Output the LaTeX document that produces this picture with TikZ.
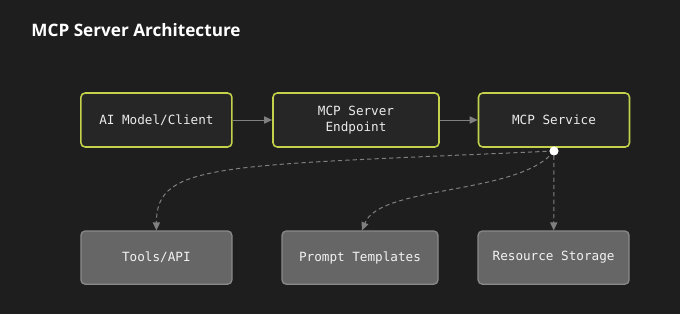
\documentclass[tikz,border=0pt]{standalone}
\usepackage{fontspec}
\setmainfont{Open Sans}
\setmonofont{DejaVu Sans Mono}
\usetikzlibrary{arrows.meta,positioning,calc}
\definecolor{bgdark}{HTML}{1E1E1E}
\definecolor{topfill}{HTML}{262626}
\definecolor{limeedge}{HTML}{C3D24A}
\definecolor{lowfill}{HTML}{666666}
\definecolor{lowedge}{HTML}{8A8A8A}
\definecolor{wiregray}{HTML}{808080}
\begin{document}
\begin{tikzpicture}[font=\ttfamily\fontsize{9}{11}\selectfont,
  upper/.style={draw=limeedge, line width=1.1pt, fill=topfill, rounded corners=3pt,
    minimum width=3.775cm, minimum height=1.35cm, text=white!92!black, align=center, inner sep=2pt},
  lower/.style={draw=lowedge, line width=0.9pt, fill=lowfill, rounded corners=3pt,
    minimum width=3.775cm, minimum height=1.33cm, text=white!95!black, align=center, inner sep=2pt},
  arr/.style={-{Triangle[length=2mm, width=1.8mm]}, wiregray, line width=0.7pt},
  darr/.style={arr, dash pattern=on 3pt off 2.2pt},
  hub/.style={circle, fill=white, minimum size=2.2mm, inner sep=0pt}]
% background and frame
\fill[bgdark] (0,0) rectangle (17,-7.85);
\useasboundingbox (0,0) rectangle (17,-7.85);
\node[anchor=base west, inner sep=0pt, text=white, font=\rmfamily\bfseries\fontsize{12.2}{14}\selectfont]
  (title) at (0.78,-0.9) {MCP Server Architecture};
% request chain
\node[upper] (client) at (3.91,-3.0) {AI Model/Client};
\node[upper, minimum width=4.15cm] (endpoint) at (8.9,-3.0) {MCP Server\\Endpoint};
\node[upper] (service) at (13.85,-3.0) {MCP Service};
\draw[arr] (client) -- (endpoint);
\draw[arr] (endpoint) -- (service);
% capabilities
\node[lower] (tools) at (3.91,-6.44) {Tools/API};
\node[lower, minimum width=3.9cm] (prompts) at (9.0,-6.44) {Prompt Templates};
\node[lower] (storage) at (13.84,-6.44) {Resource Storage};
\node[hub] (fork) at (13.85,-3.775) {};
\draw[darr] (fork.center) .. controls (5.5,-4.15) and (3.91,-4.05) .. (tools.north);
\draw[darr] (fork.center) .. controls (13.0,-4.875) and (9.5,-4.625) .. ($(prompts.north)+(0.05,0)$);
\draw[darr] (fork) -- (storage);
\node[hub] at (fork) {};
\end{tikzpicture}
\end{document}
